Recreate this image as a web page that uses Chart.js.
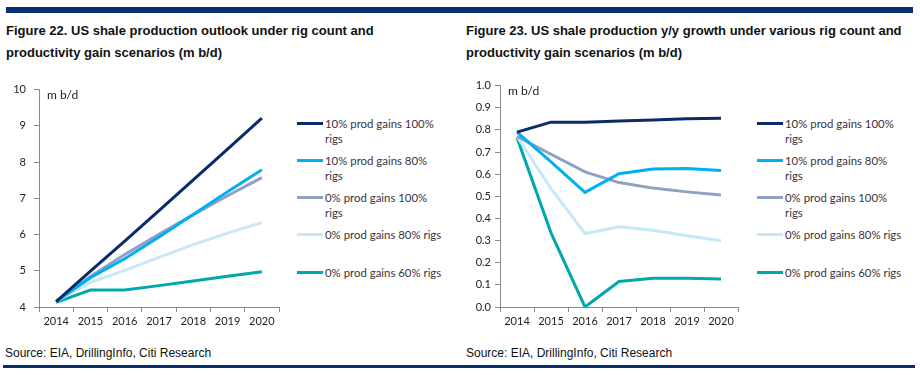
<!DOCTYPE html>
<html>
<head>
<meta charset="utf-8">
<script src="https://cdn.jsdelivr.net/npm/chart.js@4/dist/chart.umd.min.js"></script>
<style>
html,body{margin:0;padding:0;background:#fff;}
body{width:920px;height:375px;position:relative;overflow:hidden;font-family:"Liberation Sans",Arial,sans-serif;}
.bar{position:absolute;background:#08306e;}
.title{position:absolute;top:20px;font-weight:bold;font-size:13px;line-height:22px;color:#111;white-space:nowrap;}
.source{position:absolute;top:346px;font-family:"Liberation Sans Narrow","Liberation Sans",sans-serif;font-size:12px;color:#111;white-space:nowrap;}
.chart{position:absolute;top:75px;height:255px;}
.legend{position:absolute;top:0;width:160px;height:300px;}
.item{position:absolute;left:0;}
.swatch{position:absolute;left:0;width:26px;height:3px;}
.ltext{position:absolute;left:28px;width:119px;font-family:Lato,"Open Sans",sans-serif;font-size:11.4px;line-height:15px;color:#3a3340;}
</style>
</head>
<body>
<div class="bar" style="left:6px;top:7px;width:907px;height:6px;"></div>
<div class="bar" style="left:3px;top:365px;width:912px;height:3px;"></div>

<div class="title" id="t1" style="left:6px;"></div>
<div class="title" id="t2" style="left:466px;"></div>

<div class="chart" style="left:0px;width:285px;"><canvas id="c1"></canvas></div>
<div class="chart" style="left:460px;width:284px;"><canvas id="c2"></canvas></div>

<div class="legend" id="lg1" style="left:297px;"></div>
<div class="legend" id="lg2" style="left:757px;"></div>

<div class="source" style="left:5px;" id="s1"></div>
<div class="source" style="left:466px;" id="s2"></div>

<script>
// ---- data ----
const years = ['2014','2015','2016','2017','2018','2019','2020'];
const seriesNames = ['10% prod gains 100% rigs','10% prod gains 80% rigs','0% prod gains 100% rigs','0% prod gains 80% rigs','0% prod gains 60% rigs'];
const seriesColors = ['#0b2a6a','#00b0f0','#8fa1c3','#c7e8f6','#00a8ab'];

// Figure 22: production level (m b/d)
const prod10_100 = [4.15, 4.99, 5.82, 6.66, 7.51, 8.36, 9.21];
const prod10_80  = [4.15, 4.81, 5.33, 5.93, 6.55, 7.18, 7.79];
const prod0_100  = [4.15, 4.84, 5.45, 6.01, 6.55, 7.07, 7.57];
const prod0_80   = [4.15, 4.68, 5.01, 5.37, 5.72, 6.04, 6.33];
const prod0_60   = [4.13, 4.47, 4.47, 4.59, 4.72, 4.85, 4.97];

// Figure 23: y/y growth (m b/d)
const g10_100 = [0.79, 0.835, 0.835, 0.84, 0.845, 0.85, 0.852];
const g10_80  = [0.79, 0.655, 0.518, 0.602, 0.623, 0.625, 0.616];
const g0_100  = [0.77, 0.69, 0.61, 0.562, 0.537, 0.52, 0.506];
const g0_80   = [0.77, 0.535, 0.332, 0.362, 0.347, 0.322, 0.299];
const g0_60   = [0.765, 0.335, 0.0, 0.115, 0.13, 0.13, 0.126];

const title1 = ['Figure 22. US shale production outlook under rig count and','productivity gain scenarios (m b/d)'];
const title2 = ['Figure 23. US shale production y/y growth under various rig count and','productivity gain scenarios (m b/d)'];
const sourceText = 'Source: EIA, DrillingInfo, Citi Research';
const unitLabel = 'm b/d';

// ---- text ----
document.getElementById('t1').innerHTML = title1.join('<br>');
document.getElementById('t2').innerHTML = title2.join('<br>');
document.getElementById('s1').textContent = sourceText;
document.getElementById('s2').textContent = sourceText;

function buildLegend(id){
  const el = document.getElementById(id);
  seriesNames.forEach((n,i)=>{
    const top = 115.5 + i*37.25;
    const it = document.createElement('div');
    it.className='item'; it.style.top = top+'px';
    const sw = document.createElement('div');
    sw.className='swatch'; sw.style.background=seriesColors[i]; sw.style.top='6px';
    const tx = document.createElement('div');
    tx.className='ltext'; tx.textContent = n;
    it.appendChild(sw); it.appendChild(tx); el.appendChild(it);
  });
}
buildLegend('lg1'); buildLegend('lg2');

const tickFont = {family:'Lato, "Open Sans", sans-serif', size:11};
const tickColor = '#222';
const axisColor = '#8a8a8a';

const unitPlugin = {
  id:'unit',
  afterDraw(chart){
    const ctx = chart.ctx, a = chart.chartArea;
    ctx.save();
    ctx.font = '12px Lato, "Open Sans", sans-serif';
    ctx.fillStyle = '#222';
    ctx.textBaseline = 'middle';
    ctx.fillText(unitLabel, a.left + 8, a.top + 6);
    ctx.restore();
  }
};

function makeChart(id, sets, yMin, yMax, yStep, yWidth, decimals, tickPad){
  return new Chart(document.getElementById(id), {
    type:'line',
    data:{
      labels: years,
      datasets: sets.map((d,i)=>({label:seriesNames[i], data:d, borderColor:seriesColors[i], backgroundColor:seriesColors[i], borderWidth:3, pointRadius:0, tension:0, fill:false}))
    },
    options:{
      responsive:true, maintainAspectRatio:false, animation:false,
      layout:{padding:{top:10,right:6,left:0,bottom:0}},
      plugins:{legend:{display:false}, tooltip:{enabled:false}},
      scales:{
        x:{
          type:'category', offset:true,
          grid:{offset:true, drawOnChartArea:false, drawTicks:true, tickLength:5, color:axisColor},
          border:{display:true, color:axisColor, width:1},
          ticks:{font:tickFont, color:tickColor, padding:3, maxRotation:0, autoSkip:false},
          afterFit(s){ s.height = 23; }
        },
        y:{
          min:yMin, max:yMax,
          grid:{drawOnChartArea:false, drawTicks:true, tickLength:5, color:axisColor},
          border:{display:true, color:axisColor, width:1},
          ticks:{stepSize:yStep, font:tickFont, color:tickColor, padding:tickPad, callback:v=>Number(v).toFixed(decimals)},
          afterFit(s){ s.width = yWidth; }
        }
      }
    },
    plugins:[unitPlugin]
  });
}

makeChart('c1', [prod10_100, prod10_80, prod0_100, prod0_80, prod0_60], 4, 10, 1, 39, 0, 8);
makeChart('c2', [g10_100, g10_80, g0_100, g0_80, g0_60], 0, 1, 0.1, 40, 1, 4);
</script>
</body>
</html>
